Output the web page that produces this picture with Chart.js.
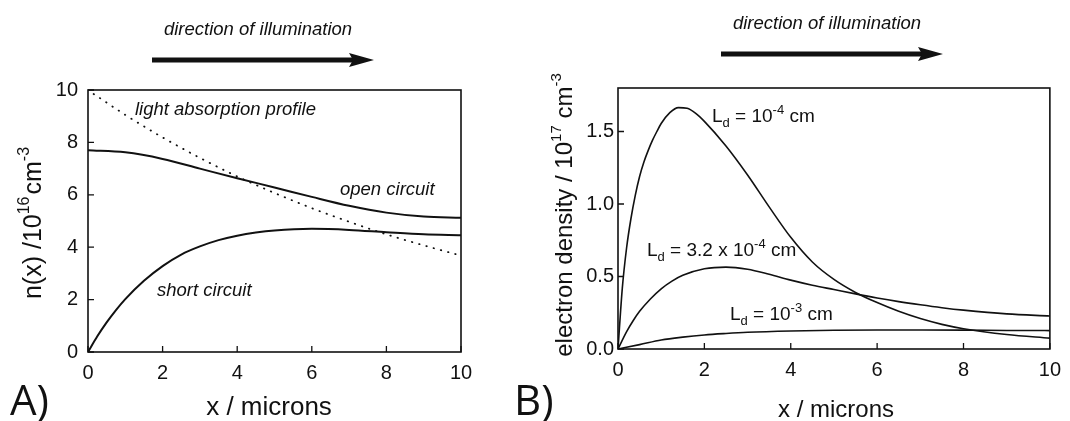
<!DOCTYPE html>
<html>
<head>
<meta charset="utf-8">
<title>n(x) and electron density profiles</title>
<script src="https://cdn.jsdelivr.net/npm/chart.js@4.4.1/dist/chart.umd.min.js"></script>
<style>
  html, body { margin: 0; padding: 0; background: #fff; }
  #wrap { position: relative; width: 1070px; height: 421px; overflow: hidden; }
  #chartA { position: absolute; left: 0; top: 0; }
  #chartB { position: absolute; left: 505px; top: 0; }
</style>
</head>
<body>
<div id="wrap">
  <canvas id="chartA" width="505" height="421"></canvas>
  <canvas id="chartB" width="565" height="421"></canvas>
</div>
<script>
/* ------------------------------------------------------------
   Data
   ------------------------------------------------------------ */
const xTicks = [0, 2, 4, 6, 8, 10];
const yTicksA = [0, 2, 4, 6, 8, 10];
const yTicksB = [0, 0.5, 1.0, 1.5];

// panel A, n(x) / 1e16 cm^-3
const openX  = [0, 1, 2, 3, 4, 5, 6, 7, 8, 9, 10];
const openY  = [7.70, 7.62, 7.37, 7.00, 6.63, 6.28, 5.92, 5.58, 5.32, 5.17, 5.12];
const shortX = [0, 0.25, 0.5, 0.75, 1, 1.5, 2, 2.5, 3, 3.5, 4, 4.5, 5, 6, 7, 8, 9, 10];
const shortY = [0, 0.60, 1.13, 1.60, 2.02, 2.72, 3.28, 3.72, 4.03, 4.27, 4.44, 4.56, 4.64, 4.70, 4.66, 4.57, 4.49, 4.46];
const lightX = [0.15, 1, 2, 3, 4, 5, 6, 7, 8, 9, 10];
const lightY = [9.85, 9.05, 8.19, 7.41, 6.70, 6.07, 5.49, 4.97, 4.49, 4.07, 3.68];

// panel B, electron density / 1e17 cm^-3
const ld1X = [0, 0.1, 0.2, 0.3, 0.4, 0.5, 0.6, 0.7, 0.8, 0.9, 1.0, 1.2, 1.4, 1.6, 1.8, 2.0, 2.5, 3.0, 3.5, 4.0, 4.5, 5.0, 5.5, 6.0, 6.5, 7.0, 7.5, 8.0, 9.0, 10];
const ld1Y = [0, 0.42, 0.70, 0.90, 1.06, 1.19, 1.29, 1.37, 1.44, 1.50, 1.555, 1.63, 1.665, 1.66, 1.625, 1.57, 1.40, 1.20, 0.98, 0.77, 0.60, 0.48, 0.39, 0.32, 0.26, 0.21, 0.17, 0.14, 0.10, 0.075];
const ld2X = [0, 0.2, 0.35, 0.5, 0.75, 1.0, 1.25, 1.5, 2.0, 2.5, 3.0, 3.5, 4.0, 4.5, 5.0, 5.5, 6.0, 6.5, 7.0, 7.5, 8.0, 9.0, 10];
const ld2Y = [0, 0.12, 0.195, 0.26, 0.345, 0.415, 0.468, 0.508, 0.553, 0.565, 0.550, 0.515, 0.475, 0.44, 0.41, 0.38, 0.352, 0.327, 0.305, 0.285, 0.268, 0.242, 0.228];
const ld3X = [0, 0.5, 1.0, 1.5, 2, 2.5, 3, 4, 5, 6, 7, 8, 9, 10];
const ld3Y = [0, 0.03, 0.062, 0.082, 0.097, 0.107, 0.115, 0.124, 0.129, 0.131, 0.131, 0.130, 0.128, 0.127];

/* ------------------------------------------------------------
   Helpers
   ------------------------------------------------------------ */
const FAMILY = '"Liberation Sans", Arial, sans-serif';

function pts(xs, ys) {
    return xs.map((x, i) => ({ x: x, y: ys[i] }));
}

function font(p) {
    return (p.italic ? "italic " : "") + p.s + "px " + FAMILY;
}

// draws a run of text pieces (for sub/superscripts)
function rich(ctx, parts, x, y, align) {
    let w = 0;
    parts.forEach(p => {
        ctx.font = font(p);
        p.w = ctx.measureText(p.t).width + (p.gap || 0);
        w += p.w;
    });
    let cx = align === "center" ? x - w / 2 : x;
    ctx.textAlign = "left";
    ctx.textBaseline = "alphabetic";
    parts.forEach(p => {
        ctx.font = font(p);
        ctx.fillText(p.t, cx + (p.gap || 0), y + (p.dy || 0));
        cx += p.w;
    });
}

function arrow(ctx, x0, x1, y) {
    ctx.save();
    ctx.strokeStyle = "#111";
    ctx.fillStyle = "#111";
    ctx.lineWidth = 5;
    ctx.beginPath();
    ctx.moveTo(x0, y);
    ctx.lineTo(x1 - 20, y);
    ctx.stroke();
    ctx.beginPath();
    ctx.moveTo(x1, y);
    ctx.lineTo(x1 - 25, y - 7);
    ctx.lineTo(x1 - 21, y);
    ctx.lineTo(x1 - 25, y + 7);
    ctx.closePath();
    ctx.fill();
    ctx.restore();
}

function frameAndTicks(ctx, chart, len) {
    const a = chart.chartArea;
    const xs = chart.scales.x, ys = chart.scales.y;
    ctx.save();
    ctx.strokeStyle = "#111";
    ctx.lineWidth = 1.6;
    ctx.strokeRect(a.left, a.top, a.right - a.left, a.bottom - a.top);
    ctx.lineWidth = 1.3;
    ctx.beginPath();
    xs.ticks.forEach(t => {
        const px = xs.getPixelForValue(t.value);
        ctx.moveTo(px, a.bottom);
        ctx.lineTo(px, a.bottom - len);
    });
    ys.ticks.forEach(t => {
        const py = ys.getPixelForValue(t.value);
        ctx.moveTo(a.left, py);
        ctx.lineTo(a.left + len, py);
    });
    ctx.stroke();
    ctx.restore();
}

const decor = {
    id: "decor",
    afterDraw(chart, args, opts) {
        const ctx = chart.ctx;
        frameAndTicks(ctx, chart, opts.tickLen);
        ctx.save();
        ctx.fillStyle = "#111";
        opts.draw(ctx, chart);
        ctx.restore();
    }
};

function makeChart(id, datasets, yMax, yTicks, fmt, box, tickPad, yPad) {
    return new Chart(document.getElementById(id), {
        type: "line",
        data: { datasets: datasets },
        options: {
            responsive: false,
            animation: false,
            layout: { padding: { left: 0, right: box.R, top: box.T, bottom: 0 } },
            plugins: { legend: { display: false }, tooltip: { enabled: false }, decor: box.decor },
            elements: { point: { radius: 0 } },
            scales: {
                x: {
                    type: "linear", min: 0, max: 10,
                    grid: { display: false, drawTicks: false },
                    border: { display: false },
                    afterBuildTicks: s => { s.ticks = xTicks.map(v => ({ value: v })); },
                    afterFit: s => { s.height = box.H; },
                    ticks: { padding: tickPad, color: "#111", font: { family: FAMILY, size: 20 }, maxRotation: 0 }
                },
                y: {
                    type: "linear", min: 0, max: yMax,
                    grid: { display: false, drawTicks: false },
                    border: { display: false },
                    afterBuildTicks: s => { s.ticks = yTicks.map(v => ({ value: v })); },
                    afterFit: s => { s.width = box.L; },
                    ticks: { padding: yPad, color: "#111", font: { family: FAMILY, size: 20 }, callback: fmt }
                }
            }
        },
        plugins: [decor]
    });
}

function line(data, width, dash) {
    return {
        data: data,
        borderColor: "#111",
        borderWidth: width,
        borderDash: dash || [],
        borderCapStyle: dash ? "round" : "butt",
        cubicInterpolationMode: "monotone",
        fill: false
    };
}

/* ------------------------------------------------------------
   Panel A
   ------------------------------------------------------------ */
makeChart("chartA", [
    line(pts(lightX, lightY), 1.8, [0.5, 7]),
    line(pts(openX, openY), 2),
    line(pts(shortX, shortY), 2)
], 10, yTicksA, v => v, {
    L: 88, R: 44, T: 90, H: 69,
    decor: {
        tickLen: 6,
        draw(ctx, chart) {
            rich(ctx, [{ t: "direction of illumination", s: 18.5, italic: true }], 258, 35, "center");
            arrow(ctx, 152, 374, 60);
            rich(ctx, [{ t: "light absorption profile", s: 18.5, italic: true }], 135, 115, "left");
            rich(ctx, [{ t: "open circuit", s: 18.5, italic: true }], 340, 195, "left");
            rich(ctx, [{ t: "short circuit", s: 18.5, italic: true }], 157, 296, "left");
            rich(ctx, [{ t: "x / microns", s: 26 }], 269, 415, "center");
            ctx.save();
            ctx.translate(41, 223);
            ctx.rotate(-Math.PI / 2);
            rich(ctx, [
                { t: "n(x) /10", s: 25 },
                { t: "16", s: 16, dy: -12 },
                { t: "cm", s: 25, gap: 2 },
                { t: "-3", s: 16, dy: -12 }
            ], 0, 0, "center");
            ctx.restore();
            ctx.font = '42px "Open Sans", sans-serif';
            ctx.fillText("A)", 10, 415);
        }
    }
}, 9, 10);

/* ------------------------------------------------------------
   Panel B
   ------------------------------------------------------------ */
makeChart("chartB", [
    line(pts(ld1X, ld1Y), 1.6),
    line(pts(ld2X, ld2Y), 1.6),
    line(pts(ld3X, ld3Y), 1.6)
], 1.8, yTicksB, v => v.toFixed(1), {
    L: 113, R: 12, T: 88, H: 72,
    decor: {
        tickLen: 6,
        draw(ctx, chart) {
            rich(ctx, [{ t: "direction of illumination", s: 18.5, italic: true }], 322, 29, "center");
            arrow(ctx, 216, 438, 54);
            rich(ctx, [
                { t: "L", s: 19 }, { t: "d", s: 13, dy: 5 },
                { t: " = 10", s: 19 }, { t: "-4", s: 13, dy: -8 }, { t: " cm", s: 19 }
            ], 207, 122, "left");
            rich(ctx, [
                { t: "L", s: 19 }, { t: "d", s: 13, dy: 5 },
                { t: " = 3.2 x 10", s: 19 }, { t: "-4", s: 13, dy: -8 }, { t: " cm", s: 19 }
            ], 142, 256, "left");
            rich(ctx, [
                { t: "L", s: 19 }, { t: "d", s: 13, dy: 5 },
                { t: " = 10", s: 19 }, { t: "-3", s: 13, dy: -8 }, { t: " cm", s: 19 }
            ], 225, 320, "left");
            rich(ctx, [{ t: "x / microns", s: 24 }], 331, 417, "center");
            ctx.save();
            ctx.translate(67, 215);
            ctx.rotate(-Math.PI / 2);
            rich(ctx, [
                { t: "electron density / 10", s: 24 },
                { t: "17", s: 15, dy: -11 },
                { t: " cm", s: 24 },
                { t: "-3", s: 15, dy: -11 }
            ], 0, 0, "center");
            ctx.restore();
            ctx.font = '42px "Open Sans", sans-serif';
            ctx.fillText("B)", 9, 415);
        }
    }
}, 9, 4);
</script>
</body>
</html>
